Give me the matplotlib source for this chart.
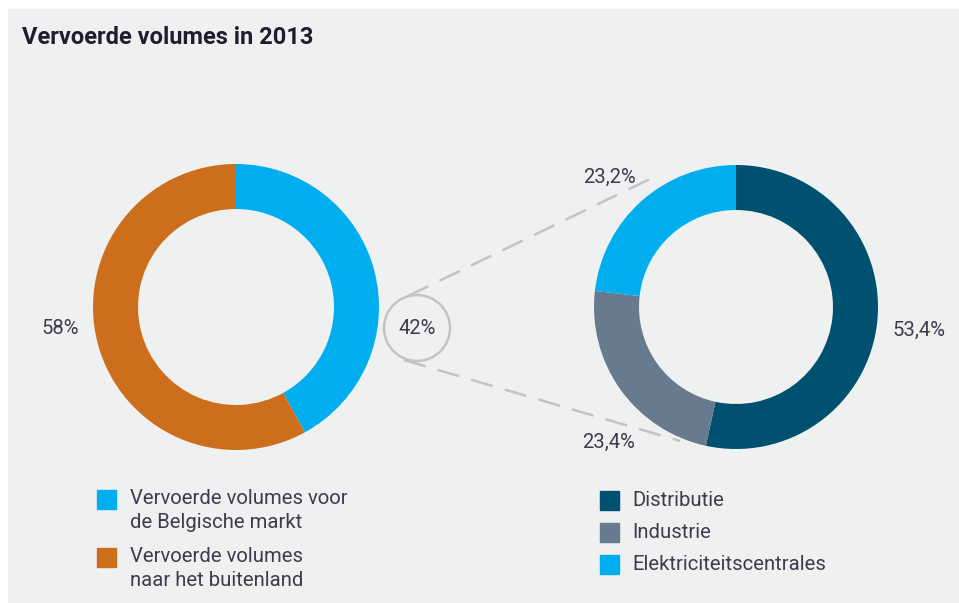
import matplotlib.pyplot as plt
from matplotlib.patches import Rectangle, Circle

# data
left_labels = ['Vervoerde volumes voor\nde Belgische markt', 'Vervoerde volumes\nnaar het buitenland']
left_values = [42, 58]
left_colors = ['#00aeef', '#cc6e1c']

right_labels = ['Distributie', 'Industrie', 'Elektriciteitscentrales']
right_values = [53.4, 23.4, 23.2]
right_colors = ['#00506f', '#677a8e', '#00aeef']

W, H = 959, 603
bg = '#eff0f0'
txt = '#3c3c4c'
fs = 14.6

plt.rcParams['font.family'] = ['Roboto', 'DejaVu Sans']

fig = plt.figure(figsize=(W / 100, H / 100), dpi=100)
ax = fig.add_axes([0, 0, 1, 1])


def Y(y):
    return H - y


# left donut
ax.pie(left_values, colors=left_colors, startangle=90, counterclock=False,
       center=(236, Y(307)), radius=143, frame=True,
       wedgeprops=dict(width=45, edgecolor='none'))

# right donut
ax.pie(right_values, colors=right_colors, startangle=90, counterclock=False,
       center=(736, Y(307)), radius=142, frame=True,
       wedgeprops=dict(width=45, edgecolor='none'))
ax.set_xlim(0, W)
ax.set_ylim(0, H)
ax.axis('off')

ax.add_patch(Rectangle((8, 0), W - 9, Y(9), color=bg, zorder=-1))

ax.text(22, Y(37), 'Vervoerde volumes in 2013', fontsize=17, fontweight='bold',
        color='#1e1e2e', va='center', ha='left')

# connector
ax.add_patch(Circle((417, Y(328)), 33, facecolor='none', edgecolor='#c4c4c4', lw=1.8, zorder=3))
ax.plot([408, 652], [Y(296), Y(178)], color='#c4c4c4', lw=1.8, dashes=(9, 5), zorder=3)
ax.plot([404, 680], [Y(360), Y(441)], color='#c4c4c4', lw=1.8, dashes=(9, 5), zorder=3)

ax.text(417, Y(328), f'{left_values[0]}%', fontsize=fs, color=txt, ha='center', va='center')
ax.text(60, Y(328), f'{left_values[1]}%', fontsize=fs, color=txt, ha='center', va='center')


def pct(v):
    return f'{v:.1f}%'.replace('.', ',')


ax.text(919, Y(330), pct(right_values[0]), fontsize=fs, color=txt, ha='center', va='center')
ax.text(609, Y(442), pct(right_values[1]), fontsize=fs, color=txt, ha='center', va='center')
ax.text(610, Y(177), pct(right_values[2]), fontsize=fs, color=txt, ha='center', va='center')

# legends
for i, (lab, col) in enumerate(zip(left_labels, left_colors)):
    y0 = 490 + i * 58
    ax.add_patch(Rectangle((97, Y(y0 + 19)), 19, 19, color=col))
    ax.text(130, Y(y0 - 1), lab, fontsize=fs, color=txt, ha='left', va='top', linespacing=1.3)

for i, (lab, col) in enumerate(zip(right_labels, right_colors)):
    y0 = 491 + i * 32
    ax.add_patch(Rectangle((600, Y(y0 + 19)), 19, 19, color=col))
    ax.text(632, Y(y0 + 9.5), lab, fontsize=fs, color=txt, ha='left', va='center')

fig.savefig('out.png', dpi=100, facecolor='white')
